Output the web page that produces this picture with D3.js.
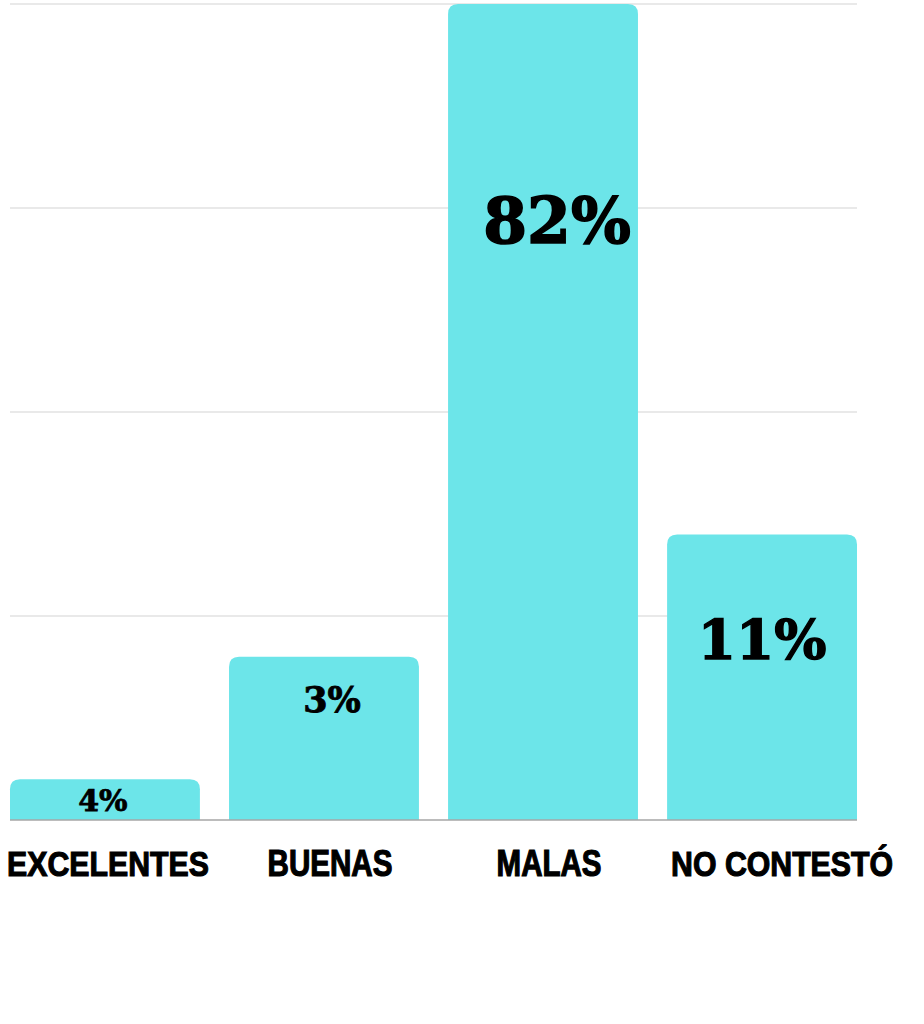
<!DOCTYPE html>
<html>
<head>
<meta charset="utf-8">
<script src="https://cdn.jsdelivr.net/npm/d3@7"></script>
<style>
  body { margin: 0; background: #fff; }
</style>
</head>
<body>
<div id="chart"></div>
<script>
// Data
const categories = ["EXCELENTES", "BUENAS", "MALAS", "NO CONTESTÓ"];
const counts = [1, 4, 20, 7];
const pctLabels = ["4%", "3%", "82%", "11%"];
const yTicks = [0, 5, 10, 15, 20];

// label styling per bar (hand placed in the original)
const labelSize = [30, 35, 63, 55];
const labelBaseline = [32, 55, 239, 125];
const labelShift = [-2, 8, 14, 0];
// category labels are squeezed condensed text in the original
const catWidth = [202, 125, 105, 222];
const catShift = [3, 6, 6, 20];

const width = 924, height = 1024;
const margin = { top: 4, right: 67, bottom: 204, left: 10 };

const svg = d3.select("#chart").append("svg")
  .attr("width", width)
  .attr("height", height);

const x = d3.scaleBand()
  .domain(categories)
  .range([margin.left, width - margin.right])
  .paddingInner(0.133)
  .paddingOuter(0);

const y = d3.scaleLinear()
  .domain([0, 20])
  .range([height - margin.bottom, margin.top]);

// gridlines
svg.append("g")
  .selectAll("line")
  .data(yTicks.slice(1))
  .join("line")
  .attr("x1", margin.left)
  .attr("x2", width - margin.right)
  .attr("y1", d => y(d))
  .attr("y2", d => y(d))
  .attr("stroke", "#d4d4d4")
  .attr("stroke-width", 1.2);

const r = 10;
function barPath(x0, y0, w, h) {
  const rr = Math.min(r, h / 2);
  return `M${x0},${y0 + h} V${y0 + rr} Q${x0},${y0} ${x0 + rr},${y0} H${x0 + w - rr} Q${x0 + w},${y0} ${x0 + w},${y0 + rr} V${y0 + h} Z`;
}

svg.append("g")
  .selectAll("path")
  .data(categories)
  .join("path")
  .attr("d", (d, i) => barPath(x(d), y(counts[i]), x.bandwidth(), y(0) - y(counts[i])))
  .attr("fill", "#6ce5e9");

// baseline
svg.append("line")
  .attr("x1", margin.left)
  .attr("x2", width - margin.right)
  .attr("y1", y(0))
  .attr("y2", y(0))
  .attr("stroke", "#a6a6a6")
  .attr("stroke-width", 1.5);

// value labels
svg.append("g")
  .selectAll("text")
  .data(categories)
  .join("text")
  .attr("x", (d, i) => x(d) + x.bandwidth() / 2 + labelShift[i])
  .attr("y", (d, i) => y(counts[i]) + labelBaseline[i])
  .attr("text-anchor", "middle")
  .attr("font-family", "'DejaVu Serif', serif")
  .attr("font-weight", "bold")
  .attr("font-size", (d, i) => labelSize[i])
  .attr("fill", "#000")
  .attr("stroke", "#000")
  .attr("stroke-width", (d, i) => labelSize[i] / 40)
  .text((d, i) => pctLabels[i]);

// category labels, squeezed horizontally to look condensed
svg.append("g")
  .selectAll("text")
  .data(categories)
  .join("text")
  .attr("text-anchor", "middle")
  .attr("font-family", "'Liberation Sans', Arial, sans-serif")
  .attr("font-weight", "bold")
  .attr("font-size", 36)
  .attr("fill", "#000")
  .attr("stroke", "#000")
  .attr("stroke-width", 1.2)
  .text(d => d)
  .attr("transform", function(d, i) {
    const w = this.getComputedTextLength();
    const cx = x(d) + x.bandwidth() / 2 + catShift[i];
    return `translate(${cx},${y(0) + 56}) scale(${catWidth[i] / w},1)`;
  });
</script>
</body>
</html>
